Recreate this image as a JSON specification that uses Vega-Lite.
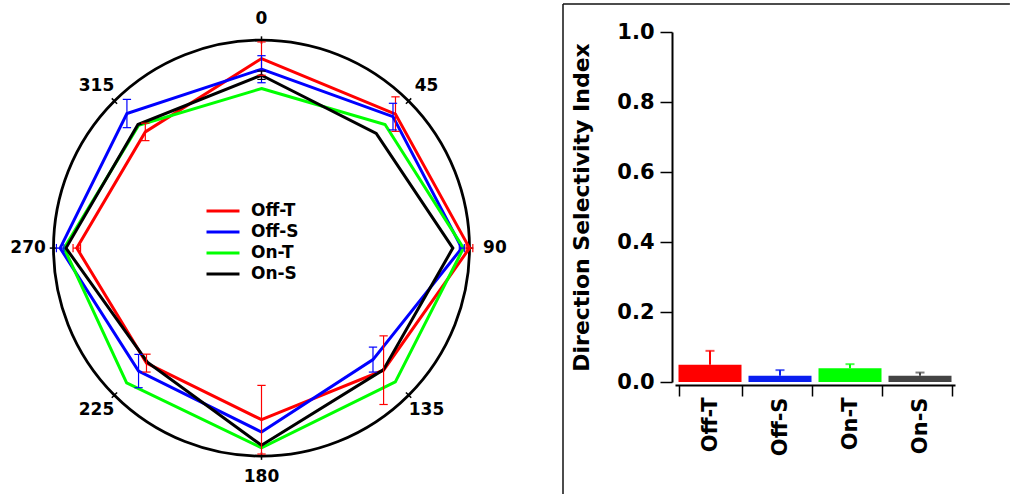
{
  "$schema": "https://vega.github.io/schema/vega-lite/v6.json",
  "padding": {"left": 0, "top": 3, "right": 0, "bottom": 0},
  "background": "white",
  "spacing": 38,
  "config": {
    "font": "DejaVu Sans",
    "view": {"stroke": null},
    "axis": {"domainColor": "black", "tickColor": "black", "labelColor": "black", "titleColor": "black", "labelFont": "DejaVu Sans", "titleFont": "DejaVu Sans", "labelFontWeight": "bold", "titleFontWeight": "bold", "grid": false}
  },
  "resolve": {"scale": {"color": "independent"}},
  "datasets": {
    "tuning": [
      {"group": "Off-T", "angle": 0, "r": 0.911, "e": 0.08},
      {"group": "Off-T", "angle": 45, "r": 0.911, "e": 0.083},
      {"group": "Off-T", "angle": 90, "r": 1.0, "e": 0.016},
      {"group": "Off-T", "angle": 135, "r": 0.83, "e": 0.165},
      {"group": "Off-T", "angle": 180, "r": 0.825, "e": 0.165},
      {"group": "Off-T", "angle": 225, "r": 0.782, "e": 0.043},
      {"group": "Off-T", "angle": 270, "r": 0.888, "e": 0.018},
      {"group": "Off-T", "angle": 315, "r": 0.79, "e": 0.042},
      {"group": "Off-S", "angle": 0, "r": 0.86, "e": 0.065},
      {"group": "Off-S", "angle": 45, "r": 0.894, "e": 0.064},
      {"group": "Off-S", "angle": 90, "r": 0.963, "e": 0.012},
      {"group": "Off-S", "angle": 135, "r": 0.758, "e": 0.06},
      {"group": "Off-S", "angle": 180, "r": 0.884, "e": 0},
      {"group": "Off-S", "angle": 225, "r": 0.836, "e": 0.08},
      {"group": "Off-S", "angle": 270, "r": 0.968, "e": 0.018},
      {"group": "Off-S", "angle": 315, "r": 0.915, "e": 0.068},
      {"group": "On-T", "angle": 0, "r": 0.767, "e": 0},
      {"group": "On-T", "angle": 45, "r": 0.84, "e": 0},
      {"group": "On-T", "angle": 90, "r": 0.971, "e": 0},
      {"group": "On-T", "angle": 135, "r": 0.91, "e": 0},
      {"group": "On-T", "angle": 180, "r": 0.96, "e": 0},
      {"group": "On-T", "angle": 225, "r": 0.917, "e": 0},
      {"group": "On-T", "angle": 270, "r": 0.949, "e": 0},
      {"group": "On-T", "angle": 315, "r": 0.835, "e": 0},
      {"group": "On-S", "angle": 0, "r": 0.831, "e": 0.02},
      {"group": "On-S", "angle": 45, "r": 0.78, "e": 0},
      {"group": "On-S", "angle": 90, "r": 0.92, "e": 0},
      {"group": "On-S", "angle": 135, "r": 0.828, "e": 0},
      {"group": "On-S", "angle": 180, "r": 0.948, "e": 0},
      {"group": "On-S", "angle": 225, "r": 0.776, "e": 0},
      {"group": "On-S", "angle": 270, "r": 0.94, "e": 0},
      {"group": "On-S", "angle": 315, "r": 0.84, "e": 0}
    ],
    "angles": [
      {"angle": 0, "label": "0"},
      {"angle": 45, "label": "45"},
      {"angle": 90, "label": "90"},
      {"angle": 135, "label": "135"},
      {"angle": 180, "label": "180"},
      {"angle": 225, "label": "225"},
      {"angle": 270, "label": "270"},
      {"angle": 315, "label": "315"}
    ],
    "dsi": [
      {"group": "Off-T", "dsi": 0.049, "upper": 0.089},
      {"group": "Off-S", "dsi": 0.018, "upper": 0.034},
      {"group": "On-T", "dsi": 0.039, "upper": 0.051},
      {"group": "On-S", "dsi": 0.018, "upper": 0.027}
    ]
  },
  "hconcat": [
    {
      "width": 524,
      "height": 464,
      "layer": [
        {
          "data": {"values": [{"ring": 1}]},
          "mark": {"type": "point", "shape": "circle", "size": 173056, "filled": false, "stroke": "black", "strokeWidth": 2.8, "opacity": 1},
          "encoding": {
            "x": {"datum": 0, "type": "quantitative", "scale": {"domain": [-1.2572, 1.2620], "nice": false, "zero": false}, "axis": null},
            "y": {"datum": 0, "type": "quantitative", "scale": {"domain": [-1.1918, 1.0389], "nice": false, "zero": false}, "axis": null}
          }
        },
        {
          "data": {"name": "angles"},
          "transform": [
            {"calculate": "datum.angle*PI/180", "as": "th"},
            {"calculate": "0.982*sin(datum.th)", "as": "tx1"},
            {"calculate": "0.982*cos(datum.th)", "as": "ty1"},
            {"calculate": "1.018*sin(datum.th)", "as": "tx2"},
            {"calculate": "1.018*cos(datum.th)", "as": "ty2"}
          ],
          "mark": {"type": "rule", "stroke": "black", "strokeWidth": 1.5},
          "encoding": {
            "x": {"field": "tx1", "type": "quantitative"},
            "y": {"field": "ty1", "type": "quantitative"},
            "x2": {"field": "tx2"},
            "y2": {"field": "ty2"}
          }
        },
        {
          "data": {"name": "angles"},
          "transform": [
            {"calculate": "datum.angle*PI/180", "as": "th"},
            {"calculate": "1.122*sin(datum.th)", "as": "lx"},
            {"calculate": "1.10*cos(datum.th)", "as": "ly"}
          ],
          "mark": {"type": "text", "fontSize": 17, "fontWeight": "bold", "font": "DejaVu Sans", "align": "center", "baseline": "middle", "color": "black"},
          "encoding": {
            "x": {"field": "lx", "type": "quantitative"},
            "y": {"field": "ly", "type": "quantitative"},
            "text": {"field": "label"}
          }
        },
        {
          "data": {"name": "tuning"},
          "transform": [
            {"calculate": "datum.angle*PI/180", "as": "th"},
            {"calculate": "datum.r*sin(datum.th)", "as": "x"},
            {"calculate": "datum.r*cos(datum.th)", "as": "y"}
          ],
          "mark": {"type": "line", "interpolate": "linear-closed", "strokeWidth": 3},
          "encoding": {
            "x": {"field": "x", "type": "quantitative"},
            "y": {"field": "y", "type": "quantitative"},
            "order": {"field": "angle", "type": "quantitative"},
            "color": {
              "field": "group", "type": "nominal",
              "scale": {"domain": ["Off-T", "Off-S", "On-T", "On-S"], "range": ["#ff0000", "#0000ff", "#00ff00", "#000000"]},
              "legend": {"orient": "none", "legendX": 213, "legendY": 169, "title": null, "symbolType": "M-2,0L2,0", "symbolSize": 272, "symbolStrokeWidth": 3, "labelFontSize": 17, "labelFontWeight": "bold", "labelFont": "DejaVu Sans", "labelColor": "black", "padding": 0, "rowPadding": 3, "labelOffset": 18}
            }
          }
        },
        {
          "data": {"name": "tuning"},
          "transform": [
            {"filter": "datum.e > 0"},
            {"calculate": "datum.angle*PI/180", "as": "th"},
            {"calculate": "datum.r*sin(datum.th)", "as": "x"},
            {"calculate": "datum.r*cos(datum.th)", "as": "y"},
            {"calculate": "datum.angle==90 || datum.angle==270 ? 1 : 0", "as": "h"},
            {"calculate": "datum.x - datum.e*datum.h", "as": "ex1"},
            {"calculate": "datum.x + datum.e*datum.h", "as": "ex2"},
            {"calculate": "datum.y - datum.e*(1-datum.h)", "as": "ey1"},
            {"calculate": "datum.y + datum.e*(1-datum.h)", "as": "ey2"}
          ],
          "layer": [
            {
              "mark": {"type": "rule", "strokeWidth": 1.2},
              "encoding": {
                "x": {"field": "ex1", "type": "quantitative"},
                "y": {"field": "ey1", "type": "quantitative"},
                "x2": {"field": "ex2"},
                "y2": {"field": "ey2"},
                "color": {"field": "group", "type": "nominal"}
              }
            },
            {
              "transform": [
                {"calculate": "datum.ex1 - 0.02*(1-datum.h)", "as": "cx1"},
                {"calculate": "datum.ex1 + 0.02*(1-datum.h)", "as": "cx2"},
                {"calculate": "datum.ey1 - 0.02*datum.h", "as": "cy1"},
                {"calculate": "datum.ey1 + 0.02*datum.h", "as": "cy2"}
              ],
              "mark": {"type": "rule", "strokeWidth": 1.2},
              "encoding": {
                "x": {"field": "cx1", "type": "quantitative"},
                "y": {"field": "cy1", "type": "quantitative"},
                "x2": {"field": "cx2"},
                "y2": {"field": "cy2"},
                "color": {"field": "group", "type": "nominal"}
              }
            },
            {
              "transform": [
                {"calculate": "datum.ex2 - 0.02*(1-datum.h)", "as": "cx1"},
                {"calculate": "datum.ex2 + 0.02*(1-datum.h)", "as": "cx2"},
                {"calculate": "datum.ey2 - 0.02*datum.h", "as": "cy1"},
                {"calculate": "datum.ey2 + 0.02*datum.h", "as": "cy2"}
              ],
              "mark": {"type": "rule", "strokeWidth": 1.2},
              "encoding": {
                "x": {"field": "cx1", "type": "quantitative"},
                "y": {"field": "cy1", "type": "quantitative"},
                "x2": {"field": "cx2"},
                "y2": {"field": "cy2"},
                "color": {"field": "group", "type": "nominal"}
              }
            }
          ]
        }
      ]
    },
    {
      "width": 280,
      "height": 350,
      "layer": [
        {
          "data": {"name": "dsi"},
          "layer": [
            {
              "mark": {"type": "bar"},
              "encoding": {
                "x": {
                  "field": "group", "type": "nominal", "sort": null,
                  "scale": {"paddingInner": 0.1, "paddingOuter": 0.05},
                  "axis": {"title": null, "offset": 3, "tickBand": "extent", "tickSize": 11, "tickWidth": 1.5, "domainWidth": 2, "labelAngle": -90, "labelFontSize": 21, "labelPadding": 1}
                },
                "y": {
                  "field": "dsi", "type": "quantitative",
                  "scale": {"domain": [0, 1], "nice": false, "zero": true},
                  "axis": {"title": "Direction Selectivity Index", "titleFontSize": 22, "titlePadding": 23, "values": [0, 0.2, 0.4, 0.6, 0.8, 1.0], "format": ".1f", "offset": 3, "tickSize": 12, "tickWidth": 1.5, "domainWidth": 2, "labelFontSize": 21, "labelPadding": 6}
                },
                "color": {
                  "field": "group", "type": "nominal",
                  "scale": {"domain": ["Off-T", "Off-S", "On-T", "On-S"], "range": ["#ff0000", "#0a1ef0", "#00ff00", "#444444"]},
                  "legend": null
                }
              }
            },
            {
              "mark": {"type": "rule", "strokeWidth": 2},
              "encoding": {
                "x": {"field": "group", "type": "nominal", "sort": null},
                "y": {"field": "dsi", "type": "quantitative"},
                "y2": {"field": "upper"},
                "color": {"field": "group", "type": "nominal", "legend": null}
              }
            },
            {
              "mark": {"type": "tick", "thickness": 2, "size": 9},
              "encoding": {
                "x": {"field": "group", "type": "nominal", "sort": null},
                "y": {"field": "upper", "type": "quantitative"},
                "color": {"field": "group", "type": "nominal", "legend": null}
              }
            }
          ]
        },
        {
          "data": {"values": [{"frame": "box"}]},
          "layer": [
            {
              "mark": {"type": "rule", "stroke": "#111111", "strokeWidth": 1.5},
              "encoding": {
                "x": {"datum": -0.4, "type": "quantitative", "scale": {"domain": [0, 1], "nice": false, "zero": false}, "axis": null},
                "y": {"datum": 1.0797, "type": "quantitative"},
                "y2": {"datum": -0.32}
              }
            },
            {
              "mark": {"type": "rule", "stroke": "#111111", "strokeWidth": 1.5},
              "encoding": {
                "x": {"datum": -0.4, "type": "quantitative", "axis": null},
                "x2": {"datum": 1.196},
                "y": {"datum": 1.0797, "type": "quantitative"}
              }
            }
          ]
        }
      ],
      "resolve": {"scale": {"x": "independent"}}
    }
  ]
}
